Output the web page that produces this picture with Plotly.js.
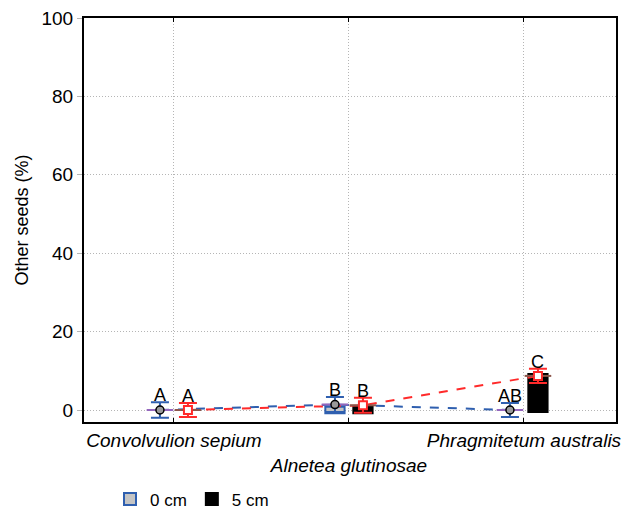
<!DOCTYPE html>
<html><head><meta charset="utf-8">
<script src="https://cdn.plot.ly/plotly-3.0.1.min.js"></script>
<style>html,body{margin:0;padding:0;background:#fff}#chart{width:636px;height:515px}</style>
</head><body><div id="chart"></div>
<script>
const categories = ['Convolvulion sepium', 'Alnetea glutinosae', 'Phragmitetum australis'];
const seriesNames = ['0 cm', '5 cm'];
// 0 cm series
const mean0 = [0, 1.4, 0];
const err0 = [2.0, 1.9, 1.8];
const boxLow0 = [0, -0.8, 0];
const boxHigh0 = [0, 0.8, 0];
const letters0 = ['A', 'B', 'AB'];
// 5 cm series
const mean5 = [0, 1.2, 8.7];
const err5 = [1.8, 1.9, 1.8];
const boxLow5 = [0, -0.8, -0.5];
const boxHigh5 = [0, 1.0, 9.2];
const letters5 = ['A', 'B', 'C'];
const yTicks = [0, 20, 40, 60, 80, 100];

const FONT = 'Arial, "Liberation Sans", sans-serif';
const idx = categories.map((c, i) => i);
const off = 0.08;
const x0 = idx.map(i => i - off);
const x5 = idx.map(i => i + off);
const BLUE = '#2f5faf', RED = '#ff2a2a';

function span(hi, lo) { return hi.map((v, i) => (v - lo[i]) === 0 ? null : v - lo[i]); }

const traces = [
  {type: 'bar', x: x0, y: span(boxHigh0, boxLow0), base: boxLow0, width: 0.11, name: seriesNames[0],
   marker: {color: '#c4c4c4', line: {color: BLUE, width: 2}}, hoverinfo: 'skip'},
  {type: 'bar', x: x5, y: span(boxHigh5, boxLow5), base: boxLow5, width: 0.11, name: seriesNames[1],
   marker: {color: '#000000', line: {color: '#000000', width: 2}}, hoverinfo: 'skip'},
  {type: 'scatter', mode: 'lines', x: x0, y: mean0, showlegend: false,
   line: {color: BLUE, width: 2, dash: 'dash'}},
  {type: 'scatter', mode: 'lines', x: x5, y: mean5, showlegend: false,
   line: {color: RED, width: 2, dash: 'dash'}},
  {type: 'scatter', mode: 'markers', x: x0, y: mean0, showlegend: false,
   error_y: {type: 'data', array: err0, color: BLUE, thickness: 2, width: 9},
   marker: {symbol: 'line-ew-open', size: 19, line: {color: '#000', width: 2}}},
  {type: 'scatter', mode: 'markers', x: x5, y: mean5, showlegend: false,
   error_y: {type: 'data', array: err5, color: RED, thickness: 2, width: 9},
   marker: {symbol: 'line-ew-open', size: 19, line: {color: RED, width: 2}}},
  {type: 'scatter', mode: 'markers', x: x0, y: mean0, showlegend: false,
   marker: {symbol: 'circle', size: 8, color: '#9a9a9a', line: {color: '#000', width: 1.5}}},
  {type: 'scatter', mode: 'markers', x: x5, y: mean5, showlegend: false,
   marker: {symbol: 'square', size: 8, color: '#ffffff', line: {color: RED, width: 2}}}
];

const annotations = [];
idx.forEach(i => {
  annotations.push({x: x0[i], y: mean0[i] + err0[i], text: letters0[i], showarrow: false,
    yanchor: 'bottom', yshift: -5, font: {family: FONT, size: 18, color: '#000'}});
  annotations.push({x: x5[i], y: mean5[i] + err5[i], text: letters5[i], showarrow: false,
    yanchor: 'bottom', yshift: -5, font: {family: FONT, size: 18, color: '#000'}});
});

const tickText = categories.map((c, i) => i === 1 ? '<br>' + c : c);

const layout = {
  width: 636, height: 515,
  margin: {l: 84, r: 20, t: 18, b: 93},
  paper_bgcolor: '#fff', plot_bgcolor: '#fff',
  font: {family: FONT, size: 17, color: '#000'},
  barmode: 'overlay',
  showlegend: true,
  legend: {orientation: 'h', x: 110 / 636, xref: 'container', xanchor: 'left',
    y: 0.03, yref: 'container', yanchor: 'middle',
    font: {family: FONT, size: 17}, bgcolor: 'rgba(0,0,0,0)'},
  xaxis: {
    automargin: false,
    range: [-0.514, 2.526], tickvals: idx, ticktext: tickText, tickangle: 0,
    tickfont: {family: FONT, size: 19, style: 'italic'},
    showgrid: true, gridcolor: '#b5b5b5', griddash: '1px,2px', gridwidth: 1,
    zeroline: false, showline: true, linecolor: '#000', linewidth: 2, mirror: 'ticks',
    ticks: 'inside', ticklen: 4, tickcolor: '#000', tickwidth: 1
  },
  yaxis: {
    automargin: false,
    range: [-3.06, 100], tickvals: yTicks,
    tickfont: {family: FONT, size: 19},
    title: {text: 'Other seeds (%)', font: {family: FONT, size: 18}, standoff: 8},
    showgrid: true, gridcolor: '#b5b5b5', griddash: '1px,2px', gridwidth: 1,
    zeroline: false, showline: true, linecolor: '#000', linewidth: 2, mirror: true,
    ticks: 'outside', ticklen: 5, tickcolor: '#b5b5b5', tickwidth: 1
  },
  annotations: annotations
};

Plotly.newPlot('chart', traces, layout, {displayModeBar: false, staticPlot: true});
</script>
</body></html>
